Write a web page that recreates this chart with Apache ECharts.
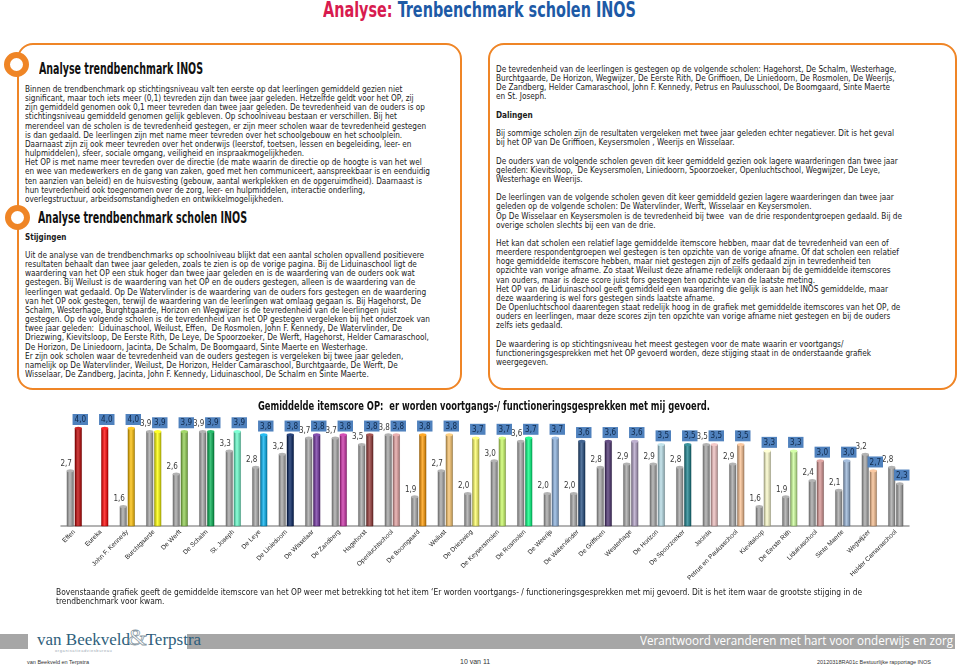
<!DOCTYPE html>
<html>
<head>
<meta charset="utf-8">
<script src="https://cdn.jsdelivr.net/npm/echarts@6/dist/echarts.min.js"></script>
<style>
  body { margin: 0; background: #fff; }
  #page { position: relative; width: 959px; height: 667px; overflow: hidden; color: #1a1a1a;
    font-family: "DejaVu Sans Condensed", "DejaVu Sans", sans-serif; }
  .abs { position: absolute; }
  .fit { display: inline-block; white-space: pre; transform-origin: 0 0; }
  .txt { font-size: 8px; line-height: 9.15px; }
  .head { font-family: "DejaVu Sans Condensed", "DejaVu Sans", sans-serif; font-weight: bold; color: #111; }
  .box { position: absolute; border: 2.5px solid #ef8526; border-radius: 16px; box-sizing: border-box; }
  .ring { position: absolute; width: 25px; height: 25px; border: 6.5px solid #ef8526; border-radius: 50%;
    background: #fff; box-sizing: border-box; }
  .band { position: absolute; background: #a6a6a6; top: 634px; height: 15px; }
  .tiny { font-family: "Liberation Sans", Arial, sans-serif; color: #333; }
</style>
</head>
<body>
<div id="page">
  <div class="abs head fit" data-w="313" style="left:323px;top:-2px;font-size:22px;line-height:24px;"><span style="color:#d81b4f">Analyse:</span> <span style="color:#1d5aa6">Trenbenchmark scholen INOS</span></div>

  <div class="box" style="left:17px;top:43px;width:445px;height:347px;"></div>
  <div class="box" style="left:488px;top:43px;width:469px;height:347px;"></div>
  <div class="ring" style="left:4px;top:52px;"></div>
  <div class="ring" style="left:5px;top:205px;"></div>

  <div class="abs head fit" data-w="164" style="left:39px;top:61px;font-size:15px;line-height:17px;">Analyse trendbenchmark INOS</div>
  <div class="abs txt fit" data-w="405" style="left:25px;top:85px;">Binnen de trendbenchmark op stichtingsniveau valt ten eerste op dat leerlingen gemiddeld gezien niet
significant, maar toch iets meer (0,1) tevreden zijn dan twee jaar geleden. Hetzelfde geldt voor het OP, zij
zijn gemiddeld genomen ook 0,1 meer tevreden dan twee jaar geleden. De tevredenheid van de ouders is op
stichtingsniveau gemiddeld genomen gelijk gebleven. Op schoolniveau bestaan er verschillen. Bij het
merendeel van de scholen is de tevredenheid gestegen, er zijn meer scholen waar de tevredenheid gestegen
is dan gedaald. De leerlingen zijn met name meer tevreden over het schoolgebouw en het schoolplein.
Daarnaast zijn zij ook meer tevreden over het onderwijs (leerstof, toetsen, lessen en begeleiding, leer- en
hulpmiddelen), sfeer, sociale omgang, veiligheid en inspraakmogelijkheden.
Het OP is met name meer tevreden over de directie (de mate waarin de directie op de hoogte is van het wel
en wee van medewerkers en de gang van zaken, goed met hen communiceert, aanspreekbaar is en eenduidig
ten aanzien van beleid) en de huisvesting (gebouw, aantal werkplekken en de opgeruimdheid). Daarnaast is
hun tevredenheid ook toegenomen over de zorg, leer- en hulpmiddelen, interactie onderling,
overlegstructuur, arbeidsomstandigheden en ontwikkelmogelijkheden.</div>

  <div class="abs head fit" data-w="209" style="left:38px;top:210px;font-size:15px;line-height:17px;">Analyse trendbenchmark scholen INOS</div>
  <div class="abs txt" style="left:25px;top:233px;font-weight:bold;">Stijgingen</div>
  <div class="abs txt fit" data-w="405" style="left:25px;top:251px;">Uit de analyse van de trendbenchmarks op schoolniveau blijkt dat een aantal scholen opvallend positievere
resultaten behaalt dan twee jaar geleden, zoals te zien is op de vorige pagina. Bij de Liduinaschool ligt de
waardering van het OP een stuk hoger dan twee jaar geleden en is de waardering van de ouders ook wat
gestegen. Bij Weilust is de waardering van het OP en de ouders gestegen, alleen is de waardering van de
leerlingen wat gedaald. Op De Watervlinder is de waardering van de ouders fors gestegen en de waardering
van het OP ook gestegen, terwijl de waardering van de leerlingen wat omlaag gegaan is. Bij Hagehorst, De
Schalm, Westerhage, Burghtgaarde, Horizon en Wegwijzer is de tevredenheid van de leerlingen juist
gestegen. Op de volgende scholen is de tevredenheid van het OP gestegen vergeleken bij het onderzoek van
twee jaar geleden:  Liduinaschool, Weilust, Effen,  De Rosmolen, John F. Kennedy, De Watervlinder, De
Driezwing, Kievitsloop, De Eerste Rith, De Leye, De Spoorzoeker, De Werft, Hagehorst, Helder Camaraschool,
De Horizon, De Liniedoorn, Jacinta, De Schalm, De Boomgaard, Sinte Maerte en Westerhage.
Er zijn ook scholen waar de tevredenheid van de ouders gestegen is vergeleken bij twee jaar geleden,
namelijk op De Watervlinder, Weilust, De Horizon, Helder Camaraschool, Burchtgaarde, De Werft, De
Wisselaar, De Zandberg, Jacinta, John F. Kennedy, Liduinaschool, De Schalm en Sinte Maerte.</div>

  <div class="abs txt fit" data-w="406" style="left:496px;top:65px;">De tevredenheid van de leerlingen is gestegen op de volgende scholen: Hagehorst, De Schalm, Westerhage,
Burchtgaarde, De Horizon, Wegwijzer, De Eerste Rith, De Griffioen, De Liniedoorn, De Rosmolen, De Weerijs,
De Zandberg, Helder Camaraschool, John F. Kennedy, Petrus en Paulusschool, De Boomgaard, Sinte Maerte
en St. Joseph.

<b>Dalingen</b>

Bij sommige scholen zijn de resultaten vergeleken met twee jaar geleden echter negatiever. Dit is het geval
bij het OP van De Griffioen, Keysersmolen , Weerijs en Wisselaar.

De ouders van de volgende scholen geven dit keer gemiddeld gezien ook lagere waarderingen dan twee jaar
geleden: Kievitsloop,  De Keysersmolen, Liniedoorn, Spoorzoeker, Openluchtschool, Wegwijzer, De Leye,
Westerhage en Weerijs.

De leerlingen van de volgende scholen geven dit keer gemiddeld gezien lagere waarderingen dan twee jaar
geleden op de volgende scholen: De Watervlinder, Werft, Wisselaar en Keysersmolen.
Op De Wisselaar en Keysersmolen is de tevredenheid bij twee  van de drie respondentgroepen gedaald. Bij de
overige scholen slechts bij een van de drie.

Het kan dat scholen een relatief lage gemiddelde itemscore hebben, maar dat de tevredenheid van een of
meerdere respondentgroepen wel gestegen is ten opzichte van de vorige afname. Of dat scholen een relatief
hoge gemiddelde itemscore hebben, maar niet gestegen zijn of zelfs gedaald zijn in tevredenheid ten
opzichte van vorige afname. Zo staat Weilust deze afname redelijk onderaan bij de gemiddelde itemscores
van ouders, maar is deze score juist fors gestegen ten opzichte van de laatste meting.
Het OP van de Liduinaschool geeft gemiddeld een waardering die gelijk is aan het INOS gemiddelde, maar
deze waardering is wel fors gestegen sinds laatste afname.
De Openluchtschool daarentegen staat redelijk hoog in de grafiek met gemiddelde itemscores van het OP, de
ouders en leerlingen, maar deze scores zijn ten opzichte van vorige afname niet gestegen en bij de ouders
zelfs iets gedaald.

De waardering is op stichtingsniveau het meest gestegen voor de mate waarin er voortgangs/
functioneringsgesprekken met het OP gevoerd worden, deze stijging staat in de onderstaande grafiek
weergegeven.</div>

  <div id="chart" class="abs" style="left:0;top:395px;width:959px;height:200px;"></div>
  <div class="abs head fit" data-w="452" style="left:258px;top:399px;font-size:12.5px;line-height:14px;">Gemiddelde itemscore OP:  er worden voortgangs-/ functioneringsgesprekken met mij gevoerd.</div>

  <div class="abs txt fit" data-w="806" style="left:56px;top:588px;">Bovenstaande grafiek geeft de gemiddelde itemscore van het OP weer met betrekking tot het item ‘Er worden voortgangs- / functioneringsgesprekken met mij gevoerd. Dit is het item waar de grootste stijging in de
trendbenchmark voor kwam.</div>

  <div class="band" style="left:0;width:28px;"></div>
  <div class="band" style="left:187px;width:768px;"></div>
  <div class="abs fit" data-w="313" style="left:640px;top:633px;font-family:'Open Sans','DejaVu Sans',sans-serif;font-size:12.5px;line-height:16px;color:#fff;">Verantwoord veranderen met hart voor onderwijs en zorg</div>
  <div class="abs" style="left:37px;top:627px;font-family:'Liberation Serif','DejaVu Serif',serif;font-size:17px;line-height:20px;color:#2f5f7c;white-space:nowrap;">van Beekveld<span style="font-size:24px;color:#fff;-webkit-text-stroke:0.8px #8a9aa5;margin:0 -1px 0 -2px;">&amp;</span>Terpstra</div>
  <div class="abs tiny" style="left:55px;top:648px;font-size:4px;letter-spacing:0.6px;color:#9aa8b2;">organisatieadviesbureau</div>

  <div class="abs tiny" style="left:27px;top:659px;font-size:5.5px;">van Beekveld en Terpstra</div>
  <div class="abs tiny" style="left:460px;top:658px;font-size:7px;">10 van 11</div>
  <div class="abs tiny" style="left:817px;top:659px;font-size:5.5px;">20120318RA01c Bestuurlijke rapportage INOS</div>
</div>

<script>
  // scholen, gemiddelde itemscore twee jaar geleden (grijs) en nu (kleur)
  var schools = ['Effen', 'Eureka', 'John F. Kennedy', 'Burchtgaarde', 'De Werft', 'De Schalm', 'St. Joseph',
    'De Leye', 'De Liniedoorn', 'De Wisselaar', 'De Zandberg', 'Hagehorst', 'Openluchtschool', 'De Boomgaard',
    'Weilust', 'De Driezwing', 'De Keysersmolen', 'De Rosmolen', 'De Weerijs', 'De Watervlinder', 'De Griffioen',
    'Westerhage', 'De Horizon', 'De Spoorzoeker', 'Jacinta', 'Petrus en Paulusschool', 'Kievitsloop',
    'De Eerste Rith', 'Liduinaschool', 'Sinte Maerte', 'Wegwijzer', 'Helder Camaraschool']
  var scoreVorige = [2.7, null, 1.6, 3.9, 2.6, 3.9, 3.3, 2.8, 3.2, 3.7, 3.7, 3.5, 3.8, 1.9, 2.7, 2.0, 3.0, 3.6,
    2.0, 2.0, 2.8, 2.9, 2.9, 2.8, 3.5, 2.9, 1.6, 1.9, 2.4, 2.1, 3.2, 2.8]
  var scoreNu = [4.0, 4.0, 4.0, 3.9, 3.9, 3.9, 3.9, 3.8, 3.8, 3.8, 3.8, 3.8, 3.8, 3.8, 3.8, 3.7, 3.7, 3.7, 3.7,
    3.6, 3.6, 3.6, 3.5, 3.5, 3.5, 3.5, 3.3, 3.3, 3.0, 3.0, 2.7, 2.3]
  var schoolColors = ['#c00000', '#ff0000', '#ffc000', '#ffff00', '#92d050', '#00b050', '#66ffcc', '#00b0f0',
    '#002060', '#7030a0', '#cc2fa8', '#943634', '#e6a1a1', '#ff9900', '#fcc66c', '#ffff66', '#ccff66', '#00ff80',
    '#8db4e2', '#1f497d', '#4b3070', '#b3a2c7', '#b7dee8', '#17808c', '#f2c0c0', '#fac090', '#ffffcc', '#ccff99',
    '#d99694', '#95b3d7', '#fac090', '#a6a6a6']

  function mix(hex, target, t) {
    var n = parseInt(hex.slice(1), 16)
    var c = [n >> 16, (n >> 8) & 255, n & 255].map(function (v) { return Math.round(v + (target - v) * t) })
    return 'rgb(' + c.join(',') + ')'
  }
  function cylinder(hex) {
    return new echarts.graphic.LinearGradient(0, 0, 1, 0, [
      { offset: 0, color: mix(hex, 0, 0.35) },
      { offset: 0.45, color: mix(hex, 255, 0.25) },
      { offset: 1, color: mix(hex, 0, 0.3) }
    ])
  }
  function komma(p) { return p.value == null ? '' : p.value.toFixed(1).replace('.', ',') }

  // ellipsvormige bovenkant van de cilinders
  function caps(values, colorOf, dx) {
    return {
      type: 'pictorialBar',
      symbol: 'circle',
      symbolSize: [7, 3],
      symbolPosition: 'end',
      symbolOffset: [dx, '-50%'],
      z: 3,
      silent: true,
      data: values.map(function (v, i) {
        return { value: v, itemStyle: { color: mix(colorOf(i), 255, 0.15), borderColor: mix(colorOf(i), 0, 0.4), borderWidth: 0.5 } }
      })
    }
  }

  var chart = echarts.init(document.getElementById('chart'))
  chart.setOption({
    animation: false,
    grid: { left: 61, right: 50, top: 33, bottom: 69 },
    xAxis: {
      type: 'category',
      data: schools,
      axisLine: { lineStyle: { color: '#9a9a9a', width: 1.5 } },
      axisTick: { show: false },
      axisLabel: { rotate: 45, interval: 0, margin: 5, fontSize: 6.5, color: '#222', fontFamily: 'Liberation Sans' }
    },
    yAxis: { type: 'value', min: 1, max: 4, show: false, splitLine: { show: false } },
    series: [
      {
        name: 'vorige',
        type: 'bar',
        barWidth: 7,
        barGap: '15%',
        data: scoreVorige,
        itemStyle: { color: cylinder('#a6a6a6'), borderColor: '#6e6e6e', borderWidth: 0.5 },
        label: { show: true, position: 'top', distance: 3, offset: [-4, 0], fontSize: 8, color: '#3a3a3a',
          fontFamily: 'DejaVu Sans Condensed', formatter: komma }
      },
      {
        name: 'nu',
        type: 'bar',
        barWidth: 7,
        data: scoreNu.map(function (v, i) {
          return { value: v, itemStyle: { color: cylinder(schoolColors[i]), borderColor: mix(schoolColors[i], 0, 0.45) } }
        }),
        itemStyle: { borderWidth: 0.5 },
        label: { show: true, position: 'top', distance: 3, offset: [2, 0], fontSize: 8, color: '#10294a',
          backgroundColor: '#4f81bd', padding: [2, 2, 1, 2], fontFamily: 'DejaVu Sans Condensed', formatter: komma }
      },
      caps(scoreVorige, function () { return '#a6a6a6' }, -4),
      caps(scoreNu, function (i) { return schoolColors[i] }, 4)
    ]
  })

  function fitAll() {
    document.querySelectorAll('[data-w]').forEach(function (el) {
      el.style.transform = 'none'
      var w = el.getBoundingClientRect().width
      el.style.transform = 'scaleX(' + (+el.dataset.w / w) + ')'
    })
  }
  fitAll()
  if (document.fonts) document.fonts.ready.then(fitAll)
</script>
</body>
</html>
